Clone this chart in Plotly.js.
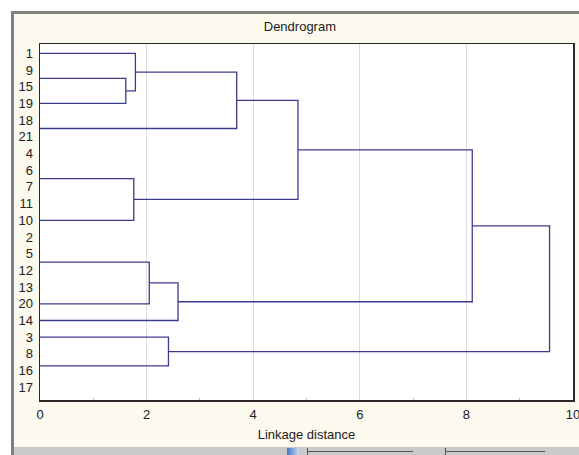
<!DOCTYPE html>
<html>
<head>
<meta charset="utf-8">
<script src="https://cdn.plot.ly/plotly-3.0.1.min.js"></script>
<style>
  html, body { margin: 0; padding: 0; background: #ffffff; width: 579px; height: 455px; overflow: hidden; }
  #frame { position: absolute; left: 11px; top: 11px; width: 568px; height: 444px;
           border-top: 3px solid #808080; border-left: 3px solid #808080; box-sizing: border-box; background: #fcf9ee; }
  #chart { position: absolute; left: 14px; top: 14px; width: 565px; height: 441px; }
  #status { position: absolute; left: 14px; top: 447px; width: 565px; height: 8px; background: #c9c9c9; }
  .sl { position: absolute; top: 451px; height: 1px; background: #555555; }
  .knob { position: absolute; top: 448px; width: 1px; height: 7px; background: #555555; }
  .blk { position: absolute; top: 448px; width: 12px; height: 7px; background: linear-gradient(90deg, #3f78c8, #c8d8ee); }
</style>
</head>
<body>
<div id="frame"></div>
<div id="chart"></div>
<div id="status"></div>
<div class="blk" style="left:287px"></div>
<div class="sl" style="left:307px;width:106px"></div>
<div class="knob" style="left:307px"></div>
<div class="sl" style="left:445px;width:100px"></div>
<div class="knob" style="left:445px"></div>
<script>
// Tick labels on the vertical axis (case order as printed)
const caseLabels = ['1','9','15','19','18','21','4','6','7','11','10','2','5','12','13','20','14','3','8','16','17'];

// Vertical positions (in label-row units) of the drawn leaf branches
const leafPos = [0, 1.5, 3, 4.5, 7.5, 10, 12.5, 15, 16, 17, 18.72];

// Merges: ids 0..10 are leaves, 11.. are merges in this order
const mergeLeft   = [1, 0, 12, 4, 13, 6, 16, 15, 9, 18];
const mergeRight  = [2, 11, 3, 5, 14, 7, 8, 17, 10, 19];
const mergeHeight = [1.61, 1.79, 3.69, 1.76, 4.84, 2.05, 2.59, 8.11, 2.41, 9.56];

// x axis ticks
const xTicks = [0, 2, 4, 6, 8, 10];
const xMinor = [1, 3, 5, 7, 9];

const nodeY = leafPos.slice();
const nodeH = leafPos.map(() => 0);
const xs = [], ys = [];
for (let i = 0; i < mergeHeight.length; i++) {
  const a = mergeLeft[i], b = mergeRight[i], h = mergeHeight[i];
  xs.push(nodeH[a], h, h, nodeH[b], null);
  ys.push(nodeY[a], nodeY[a], nodeY[b], nodeY[b], null);
  nodeY.push((nodeY[a] + nodeY[b]) / 2);
  nodeH.push(h);
}

const trace = {
  type: 'scatter', mode: 'lines', x: xs, y: ys,
  line: { color: '#3c3c8e', width: 1.3 },
  hoverinfo: 'skip', showlegend: false
};

const layout = {
  width: 565, height: 441,
  margin: { l: 26, r: 6, t: 30, b: 55 },
  paper_bgcolor: 'rgba(0,0,0,0)',
  plot_bgcolor: '#ffffff',
  font: { family: 'Liberation Sans, Arial, sans-serif', size: 13, color: '#222222' },
  title: { text: 'Dendrogram', x: 0.506, xanchor: 'center', y: 1, yref: 'container', yanchor: 'top', pad: { t: 8 },
           font: { size: 13, color: '#222222' } },
  xaxis: {
    range: [0, 10], tickvals: xTicks, ticktext: xTicks.map(String),
    showgrid: true, gridcolor: '#dcdcdc', gridwidth: 1, zeroline: false,
    showline: true, linecolor: '#2a2a2a', linewidth: 1.5, mirror: true,
    ticks: 'outside', ticklen: 2, tickcolor: 'rgba(0,0,0,0)', tickfont: { size: 13 },
    ticklabeloverflow: 'allow',
    minor: { tickvals: xMinor, ticks: 'inside', ticklen: 2, tickcolor: '#bbbbbb', showgrid: false },
    title: { text: 'Linkage distance', standoff: 9, font: { size: 13 } }
  },
  yaxis: {
    range: [20.76, -0.56], tickvals: caseLabels.map((_, i) => i), ticktext: caseLabels,
    showgrid: false, zeroline: false,
    showline: true, linecolor: '#2a2a2a', linewidth: 1.5, mirror: true,
    ticks: 'outside', ticklen: 3, tickcolor: 'rgba(0,0,0,0)', tickfont: { size: 13 }
  }
};

Plotly.newPlot('chart', [trace], layout, { displayModeBar: false, staticPlot: true });
</script>
</body>
</html>
